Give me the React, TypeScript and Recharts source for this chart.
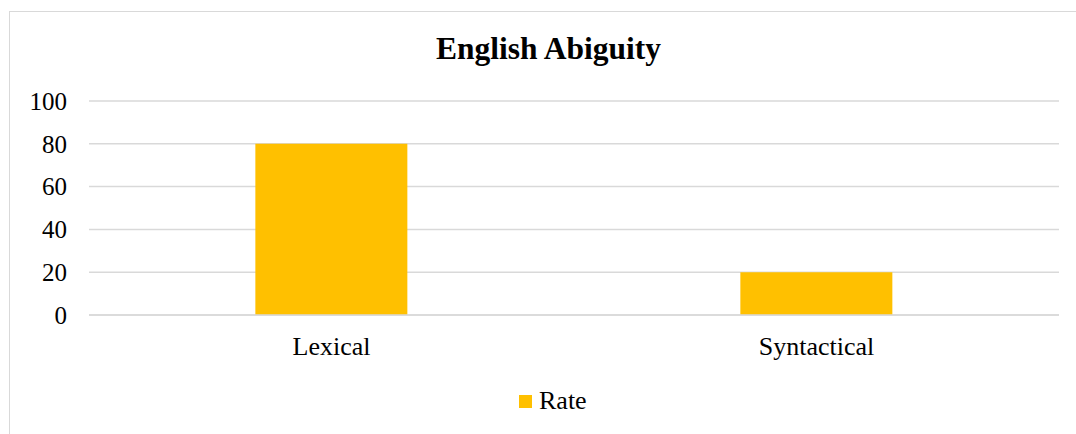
import React from 'react';
import { BarChart, Bar, XAxis, YAxis, CartesianGrid } from 'recharts';

const categories = ['Lexical', 'Syntactical'];
const rateValues = [80, 20];
const yTicks = [0, 20, 40, 60, 80, 100];
const seriesName = 'Rate';

const data = categories.map((name, i) => ({ name, Rate: rateValues[i] }));

const font = '"Liberation Serif", "Times New Roman", serif';
const barColor = '#FFC000';

export default function App() {
    return (
        <div style={{ position: 'absolute', left: 0, top: 0, width: 1076, height: 434, background: '#fff', overflow: 'hidden' }}>
            <div
                style={{
                    position: 'absolute',
                    left: 9,
                    top: 11,
                    width: 1100,
                    height: 440,
                    borderTop: '1px solid #d9d9d9',
                    borderLeft: '1px solid #d9d9d9',
                }}
            />
            <div
                style={{
                    position: 'absolute',
                    left: 0,
                    top: 31,
                    width: 1097,
                    textAlign: 'center',
                    fontFamily: font,
                    fontWeight: 'bold',
                    fontSize: 31.5,
                    color: '#000',
                }}
            >
                English Abiguity
            </div>
            <div style={{ position: 'absolute', left: 0, top: 0 }}>
                <BarChart width={1076} height={434} data={data} margin={{ top: 101, right: 17, bottom: 89, left: 0 }} barCategoryGap="34.3%">
                    <CartesianGrid vertical={false} stroke="#d9d9d9" strokeWidth={1.5} />
                    <XAxis
                        dataKey="name"
                        height={30}
                        axisLine={{ stroke: '#d9d9d9', strokeWidth: 1.5 }}
                        tickLine={false}
                        tickSize={0}
                        tickMargin={22}
                        interval={0}
                        tick={{ fill: '#000', fontSize: 26, fontFamily: font }}
                    />
                    <YAxis
                        domain={[0, 100]}
                        ticks={yTicks}
                        interval={0}
                        width={89}
                        axisLine={false}
                        tickLine={false}
                        tickSize={0}
                        tickMargin={22}
                        tick={{ fill: '#000', fontSize: 25, fontFamily: font }}
                    />
                    <Bar dataKey="Rate" name={seriesName} fill={barColor} isAnimationActive={false} />
                </BarChart>
            </div>
            <div
                style={{
                    position: 'absolute',
                    left: 519,
                    top: 386,
                    display: 'flex',
                    alignItems: 'center',
                    fontFamily: font,
                    fontSize: 26,
                    color: '#000',
                }}
            >
                <span style={{ width: 13, height: 13, background: barColor, marginRight: 7, display: 'inline-block' }} />
                <span>{seriesName}</span>
            </div>
        </div>
    );
}
